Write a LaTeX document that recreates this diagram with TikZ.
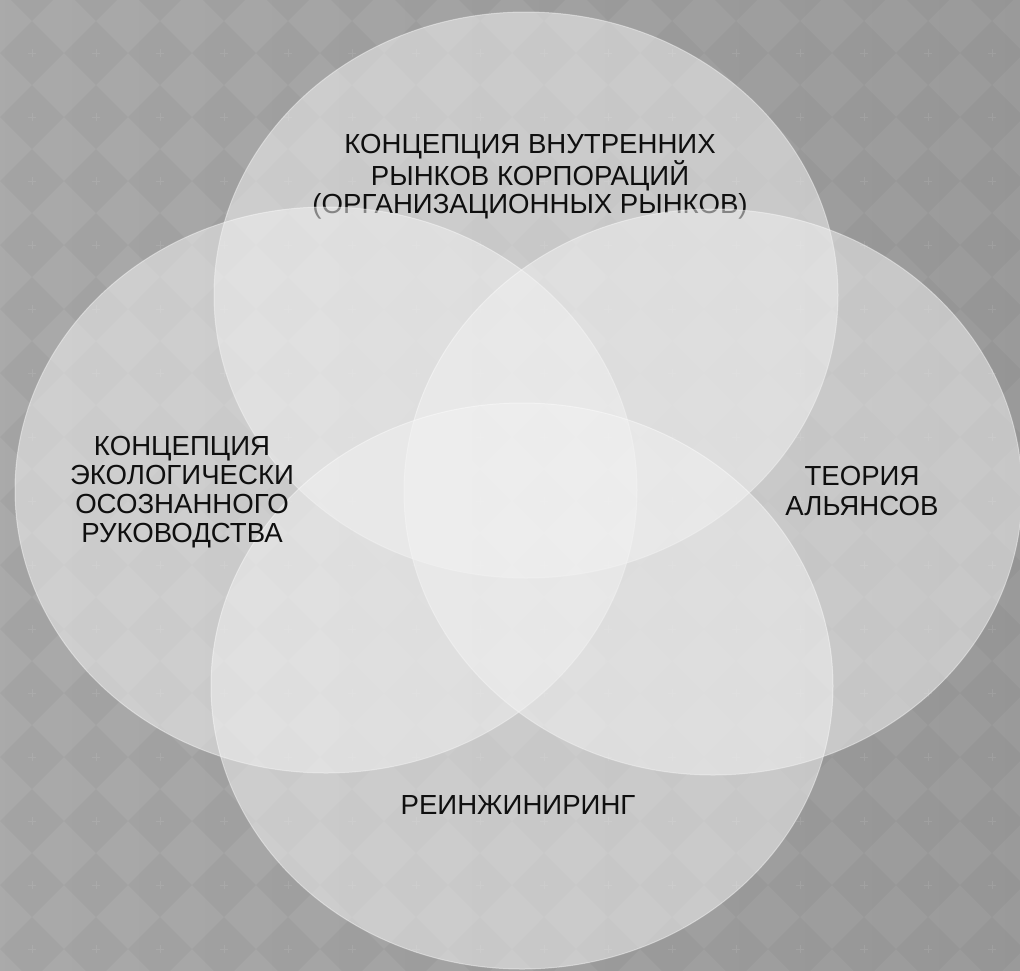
\documentclass[tikz,border=0pt]{standalone}
\usepackage{fontspec}
\setmainfont{Liberation Sans}
\begin{document}
\begin{tikzpicture}[x=1pt,y=-1pt,
  vennfill/.style={fill=vennwhite,fill opacity=0.52,draw=white,draw opacity=0.4,line width=1pt},
  venntext/.style={font=\fontsize{27.6}{29}\selectfont,align=center,text=textdark,inner sep=0pt},
  darkdiamond/.style={fill=black,fill opacity=0.03},
  crossmark/.style={draw=white,draw opacity=0.09,line width=0.7pt}]
\definecolor{vennwhite}{gray}{0.95}
\definecolor{textdark}{gray}{0.06}
\definecolor{bgleft}{gray}{0.665}
\definecolor{bgright}{gray}{0.605}
\useasboundingbox (0,0) rectangle (1020,970);
\clip (0,0) rectangle (1020,970);
% background
\shade[left color=bgleft,right color=bgright] (0,0) rectangle (1020,970);
\foreach \i in {-1,...,16}{
  \foreach \j in {-1,...,15}{
    \fill[darkdiamond] ({32+64*\i-32},{53+64*\j}) -- ++(32,-32) -- ++(32,32) -- ++(-32,32) -- cycle;
    \draw[crossmark] ({32+64*\i-4},{53+64*\j}) -- ++(8,0) ({32+64*\i},{53+64*\j-4}) -- ++(0,8);
  }
}
% top ellipse with its text (covered by the later ellipses)
\path[vennfill] (526,295) ellipse [x radius=312,y radius=283];
\node[venntext,font=\fontsize{27.6}{28.5}\selectfont] (ttop) at (530,177) {КОНЦЕПЦИЯ ВНУТРЕННИХ\\РЫНКОВ КОРПОРАЦИЙ\\(ОРГАНИЗАЦИОННЫХ РЫНКОВ)};
% other ellipses
\path[vennfill] (326,490) ellipse [x radius=311,y radius=283];
\path[vennfill] (713,492) ellipse [x radius=309,y radius=283];
\path[vennfill] (522,686) ellipse [x radius=311,y radius=283];
% texts
\node[venntext] (tleft) at (182,492) {КОНЦЕПЦИЯ\\ЭКОЛОГИЧЕСКИ\\ОСОЗНАННОГО\\РУКОВОДСТВА};
\node[venntext,font=\fontsize{27.6}{30.5}\selectfont] (tright) at (862,491) {ТЕОРИЯ\\АЛЬЯНСОВ};
\node[venntext] (tbottom) at (518,805) {РЕИНЖИНИРИНГ};
\end{tikzpicture}
\end{document}
